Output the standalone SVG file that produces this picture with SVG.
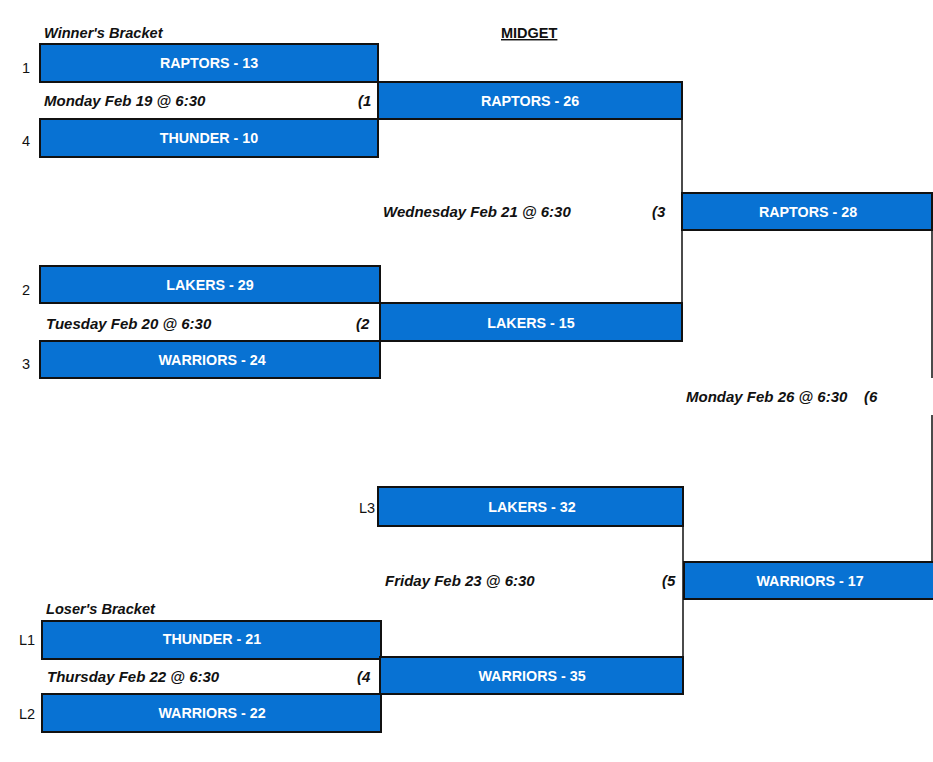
<svg xmlns="http://www.w3.org/2000/svg" width="933" height="762" viewBox="0 0 933 762">
<style>
.box{fill:#0872D3;stroke:#111;stroke-width:2}
.bt{font-family:"Liberation Sans",Arial,sans-serif;font-weight:bold;font-size:14.3px;fill:#fff;text-anchor:middle}
.dt{font-family:"Liberation Sans",Arial,sans-serif;font-weight:bold;font-style:italic;font-size:15px;fill:#111}
.hd{font-family:"Liberation Sans",Arial,sans-serif;font-weight:bold;font-style:italic;font-size:14.6px;fill:#111}
.sd{font-family:"Liberation Sans",Arial,sans-serif;font-size:14.5px;fill:#111}
.ln{stroke:#111;stroke-width:1.5;fill:none}
</style>
<rect width="933" height="762" fill="#fff"/>
<text class="hd" x="44" y="38">Winner's Bracket</text>
<text x="501" y="38" font-family="Liberation Sans,Arial,sans-serif" font-weight="bold" font-size="14.5" fill="#111" text-decoration="underline">MIDGET</text>
<g id="connectors">
<path class="ln" d="M682,119 V193 M682,230 V303 M932,230 V378 M932,415 V562 M683,526 V657"/>
</g>
<g id="n-r13"><rect class="box" x="40" y="44" width="338" height="38"/><text class="bt" x="209" y="68">RAPTORS - 13</text><text class="sd" x="22" y="73">1</text></g>
<g id="n-t10"><rect class="box" x="40" y="119" width="338" height="38"/><text class="bt" x="209" y="143">THUNDER - 10</text><text class="sd" x="22" y="146">4</text></g>
<g id="g1"><text class="dt" x="44" y="106">Monday Feb 19 @ 6:30</text><text class="dt" x="358" y="106">(1</text></g>
<g id="n-r26"><rect class="box" x="378" y="82" width="304" height="37"/><text class="bt" x="530" y="106">RAPTORS - 26</text></g>
<g id="g3"><text class="dt" x="383" y="217">Wednesday Feb 21 @ 6:30</text><text class="dt" x="652" y="217">(3</text></g>
<g id="n-r28"><rect class="box" x="682" y="193" width="250" height="37"/><text class="bt" x="808" y="217">RAPTORS - 28</text></g>
<g id="n-l29"><rect class="box" x="40" y="266" width="340" height="37"/><text class="bt" x="210" y="290">LAKERS - 29</text><text class="sd" x="22" y="295">2</text></g>
<g id="g2"><text class="dt" x="46" y="329">Tuesday Feb 20 @ 6:30</text><text class="dt" x="356" y="329">(2</text></g>
<g id="n-l15"><rect class="box" x="380" y="303" width="302" height="38"/><text class="bt" x="531" y="328">LAKERS - 15</text></g>
<g id="n-w24"><rect class="box" x="40" y="341" width="340" height="37"/><text class="bt" x="212" y="365">WARRIORS - 24</text><text class="sd" x="22" y="369">3</text></g>
<g id="g6"><text class="dt" x="686" y="402">Monday Feb 26 @ 6:30</text><text class="dt" x="864" y="402">(6</text></g>
<g id="n-l32"><rect class="box" x="378" y="487" width="305" height="39"/><text class="bt" x="532" y="512">LAKERS - 32</text><text class="sd" x="359" y="513">L3</text></g>
<g id="g5"><text class="dt" x="385" y="586">Friday Feb 23 @ 6:30</text><text class="dt" x="662" y="586">(5</text></g>
<g id="n-w17"><rect class="box" x="684" y="562" width="252" height="37"/><text class="bt" x="810" y="586">WARRIORS - 17</text></g>
<text class="hd" x="46" y="614">Loser's Bracket</text>
<g id="n-t21"><rect class="box" x="42" y="621" width="339" height="38"/><text class="bt" x="212" y="644">THUNDER - 21</text><text class="sd" x="19" y="645">L1</text></g>
<g id="g4"><text class="dt" x="47" y="682">Thursday Feb 22 @ 6:30</text><text class="dt" x="357" y="682">(4</text></g>
<g id="n-w35"><rect class="box" x="380" y="657" width="303" height="37"/><text class="bt" x="532" y="681">WARRIORS - 35</text></g>
<g id="n-w22"><rect class="box" x="42" y="694" width="339" height="38"/><text class="bt" x="212" y="718">WARRIORS - 22</text><text class="sd" x="19" y="719">L2</text></g>
</svg>
